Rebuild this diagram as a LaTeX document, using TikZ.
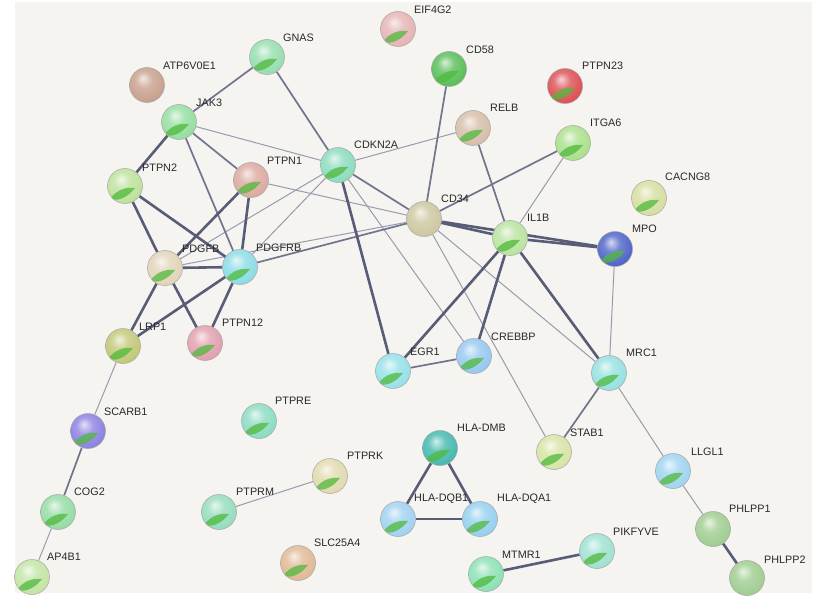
\documentclass[tikz,border=0pt]{standalone}
\usepackage{fontspec}
\setmainfont{Liberation Sans}
\usetikzlibrary{backgrounds}
\definecolor{bgpaper}{RGB}{245,244,240}
\definecolor{edgehi}{RGB}{88,92,118}
\definecolor{edgemid}{RGB}{112,116,140}
\definecolor{edgelo}{RGB}{152,155,174}
\definecolor{patchgreen}{RGB}{80,185,60}
\definecolor{labeltext}{RGB}{40,40,40}
% protein colours
\definecolor{cgnas}{RGB}{150,222,175}
\definecolor{ceif}{RGB}{230,180,180}
\definecolor{ccdfiftyeight}{RGB}{90,190,90}
\definecolor{catp}{RGB}{200,160,140}
\definecolor{cptpntwothree}{RGB}{220,80,85}
\definecolor{cjak}{RGB}{150,222,160}
\definecolor{crelb}{RGB}{215,190,170}
\definecolor{citga}{RGB}{170,225,140}
\definecolor{ccdkn}{RGB}{140,220,190}
\definecolor{cptpnone}{RGB}{220,170,160}
\definecolor{cptpntwo}{RGB}{190,225,155}
\definecolor{ccacng}{RGB}{215,222,160}
\definecolor{ccdthirtyfour}{RGB}{205,200,160}
\definecolor{cilb}{RGB}{185,228,160}
\definecolor{cmpo}{RGB}{80,100,200}
\definecolor{cpdgfb}{RGB}{225,212,185}
\definecolor{cpdgfrb}{RGB}{140,220,230}
\definecolor{clrp}{RGB}{195,200,120}
\definecolor{cptpntwelve}{RGB}{225,160,175}
\definecolor{cegr}{RGB}{150,225,232}
\definecolor{ccrebbp}{RGB}{150,200,240}
\definecolor{cmrc}{RGB}{150,225,225}
\definecolor{cscarb}{RGB}{140,130,225}
\definecolor{cptpre}{RGB}{140,220,195}
\definecolor{cstab}{RGB}{215,228,165}
\definecolor{chladmb}{RGB}{70,185,175}
\definecolor{cllgl}{RGB}{160,212,240}
\definecolor{cptprk}{RGB}{225,218,175}
\definecolor{chladqb}{RGB}{160,210,240}
\definecolor{chladqa}{RGB}{150,208,240}
\definecolor{cptprm}{RGB}{150,220,190}
\definecolor{ccog}{RGB}{150,220,165}
\definecolor{cphlpp}{RGB}{160,205,145}
\definecolor{cpikfyve}{RGB}{160,225,210}
\definecolor{cslc}{RGB}{225,185,150}
\definecolor{cmtmr}{RGB}{140,225,180}
\definecolor{capfour}{RGB}{195,228,165}
\colorlet{protcol}{gray}
\pgfdeclareradialshading[protcol]{protball}{\pgfqpoint{-6bp}{10bp}}{%
  color(0bp)=(protcol!25!white); color(12bp)=(protcol!80!white);
  color(28bp)=(protcol); color(40bp)=(protcol!88!black); color(50bp)=(protcol!65!black)}

\begin{document}
\begin{tikzpicture}[
    x=1pt, y=-1pt,
    setcol/.code={\colorlet{protcol}{#1}},
    prot/.style={circle, minimum size=35pt, inner sep=0pt, setcol=#1,
        shading=protball, draw=black!35, line width=0.5pt},
    protst/.style={prot=#1, path picture={
        \fill[patchgreen, opacity=.75, shift={(path picture bounding box.center)}]
            (-15pt,-13pt) .. controls (-8pt,-3pt) and (2pt,-1pt) .. (10pt,-2pt)
            .. controls (4pt,-10pt) and (-6pt,-16pt) .. cycle;}},
    lbl/.style={anchor=west, inner sep=0pt, font=\fontsize{10.8}{12}\selectfont, text=labeltext},
    hi/.style={draw=edgehi, line width=2.6pt},
    mid/.style={draw=edgemid, line width=1.7pt},
    lo/.style={draw=edgelo, line width=1pt}
]
    \useasboundingbox (0,0) rectangle (817,599);

    % Proteins
    \node[protst=cgnas] (gnas) at (267,57) {};
    \node[protst=ceif] (eif4g2) at (398,29) {};
    \node[protst=ccdfiftyeight] (cd58) at (449,69) {};
    \node[prot=catp] (atp6v0e1) at (147,85) {};
    \node[protst=cptpntwothree] (ptpn23) at (565,86) {};
    \node[protst=cjak] (jak3) at (179,122) {};
    \node[protst=crelb] (relb) at (473,128) {};
    \node[protst=citga] (itga6) at (573,143) {};
    \node[protst=ccdkn] (cdkn2a) at (338,165) {};
    \node[protst=cptpnone] (ptpn1) at (251,180) {};
    \node[protst=cptpntwo] (ptpn2) at (125,186) {};
    \node[protst=ccacng] (cacng8) at (649,198) {};
    \node[prot=ccdthirtyfour] (cd34) at (424,219) {};
    \node[protst=cilb] (il1b) at (510,238) {};
    \node[protst=cmpo] (mpo) at (615,249) {};
    \node[protst=cpdgfb] (pdgfb) at (165,268) {};
    \node[protst=cpdgfrb] (pdgfrb) at (240,267) {};
    \node[protst=clrp] (lrp1) at (123,346) {};
    \node[protst=cptpntwelve] (ptpn12) at (205,343) {};
    \node[protst=cegr] (egr1) at (393,371) {};
    \node[protst=ccrebbp] (crebbp) at (474,356) {};
    \node[protst=cmrc] (mrc1) at (609,373) {};
    \node[protst=cscarb] (scarb1) at (88,431) {};
    \node[protst=cptpre] (ptpre) at (259,421) {};
    \node[protst=cstab] (stab1) at (554,452) {};
    \node[protst=chladmb] (hladmb) at (440,448) {};
    \node[protst=cllgl] (llgl1) at (673,471) {};
    \node[protst=cptprk] (ptprk) at (330,476) {};
    \node[protst=chladqb] (hladqb1) at (398,519) {};
    \node[protst=chladqa] (hladqa1) at (480,519) {};
    \node[protst=cptprm] (ptprm) at (219,512) {};
    \node[protst=ccog] (cog2) at (58,512) {};
    \node[prot=cphlpp] (phlpp1) at (713,529) {};
    \node[protst=cpikfyve] (pikfyve) at (597,551) {};
    \node[protst=cslc] (slc25a4) at (298,563) {};
    \node[protst=cmtmr] (mtmr1) at (486,574) {};
    \node[prot=cphlpp] (phlpp2) at (747,578) {};
    \node[protst=capfour] (ap4b1) at (32,577) {};

    % Labels
    \node[lbl] (gnas-l) at (283,38) {GNAS};
    \node[lbl] (eif4g2-l) at (414,10) {EIF4G2};
    \node[lbl] (cd58-l) at (466,50) {CD58};
    \node[lbl] (atp6v0e1-l) at (163,66) {ATP6V0E1};
    \node[lbl] (ptpn23-l) at (582,66) {PTPN23};
    \node[lbl] (jak3-l) at (196,103) {JAK3};
    \node[lbl] (relb-l) at (490,108) {RELB};
    \node[lbl] (itga6-l) at (590,123) {ITGA6};
    \node[lbl] (cdkn2a-l) at (354,145) {CDKN2A};
    \node[lbl] (ptpn1-l) at (267,161) {PTPN1};
    \node[lbl] (ptpn2-l) at (142,168) {PTPN2};
    \node[lbl] (cacng8-l) at (665,177) {CACNG8};
    \node[lbl] (cd34-l) at (441,199) {CD34};
    \node[lbl] (il1b-l) at (527,218) {IL1B};
    \node[lbl] (mpo-l) at (632,229) {MPO};
    \node[lbl] (pdgfb-l) at (182,249) {PDGFB};
    \node[lbl] (pdgfrb-l) at (256,248) {PDGFRB};
    \node[lbl] (lrp1-l) at (139,327) {LRP1};
    \node[lbl] (ptpn12-l) at (222,323) {PTPN12};
    \node[lbl] (egr1-l) at (410,352) {EGR1};
    \node[lbl] (crebbp-l) at (491,337) {CREBBP};
    \node[lbl] (mrc1-l) at (626,353) {MRC1};
    \node[lbl] (scarb1-l) at (104,412) {SCARB1};
    \node[lbl] (ptpre-l) at (275,401) {PTPRE};
    \node[lbl] (stab1-l) at (570,433) {STAB1};
    \node[lbl] (hladmb-l) at (457,428) {HLA-DMB};
    \node[lbl] (llgl1-l) at (691,452) {LLGL1};
    \node[lbl] (ptprk-l) at (347,456) {PTPRK};
    \node[lbl] (hladqb1-l) at (414,499) {HLA-DQB1};
    \node[lbl] (hladqa1-l) at (497,499) {HLA-DQA1};
    \node[lbl] (ptprm-l) at (236,492) {PTPRM};
    \node[lbl] (cog2-l) at (74,492) {COG2};
    \node[lbl] (phlpp1-l) at (729,509) {PHLPP1};
    \node[lbl] (pikfyve-l) at (613,532) {PIKFYVE};
    \node[lbl] (slc25a4-l) at (314,543) {SLC25A4};
    \node[lbl] (mtmr1-l) at (502,555) {MTMR1};
    \node[lbl] (phlpp2-l) at (764,560) {PHLPP2};
    \node[lbl] (ap4b1-l) at (47,557) {AP4B1};

    \begin{scope}[on background layer]
        % Paper
        \fill[white] (0,0) rectangle (817,599);
        \fill[bgpaper] (15,2) rectangle (812,593);

        % Weak links
        \draw[lo] (jak3) -- (cdkn2a);
        \draw[lo] (ptpn1) -- (cd34);
        \draw[lo] (pdgfb) -- (cdkn2a);
        \draw[lo] (pdgfb) -- (cd34);
        \draw[lo] (pdgfrb) -- (cdkn2a);
        \draw[lo] (cdkn2a) -- (relb);
        \draw[lo] (cdkn2a) -- (crebbp);
        \draw[lo] (cd34) -- (stab1);
        \draw[lo] (cd34) -- (mrc1);
        \draw[lo] (itga6) -- (il1b);
        \draw[lo] (mpo) -- (mrc1);
        \draw[lo] (mrc1) -- (llgl1);
        \draw[lo] (llgl1) -- (phlpp1);
        \draw[lo] (ptprm) -- (ptprk);
        \draw[lo] (lrp1) -- (scarb1);
        \draw[lo] (cog2) -- (ap4b1);

        % Medium links
        \draw[mid] (gnas) -- (jak3);
        \draw[mid] (gnas) -- (cdkn2a);
        \draw[mid] (jak3) -- (ptpn1);
        \draw[mid] (jak3) -- (pdgfrb);
        \draw[mid] (cdkn2a) -- (cd34);
        \draw[mid] (cd58) -- (cd34);
        \draw[mid] (cd34) -- (itga6);
        \draw[mid] (cd34) -- (pdgfrb);
        \draw[mid] (relb) -- (il1b);
        \draw[mid] (egr1) -- (crebbp);
        \draw[mid] (mrc1) -- (stab1);
        \draw[mid] (scarb1) -- (cog2);

        % Strong links
        \draw[hi] (jak3) -- (ptpn2);
        \draw[hi] (ptpn2) -- (pdgfb);
        \draw[hi] (ptpn2) -- (pdgfrb);
        \draw[hi] (ptpn1) -- (pdgfb);
        \draw[hi] (ptpn1) -- (pdgfrb);
        \draw[hi] (pdgfb) -- (pdgfrb);
        \draw[hi] (pdgfb) -- (lrp1);
        \draw[hi] (pdgfb) -- (ptpn12);
        \draw[hi] (pdgfrb) -- (lrp1);
        \draw[hi] (pdgfrb) -- (ptpn12);
        \draw[hi] (cdkn2a) -- (egr1);
        \draw[hi] (cd34) -- (il1b);
        \draw[hi] (cd34) -- (mpo);
        \draw[hi] (il1b) -- (mpo);
        \draw[hi] (il1b) -- (egr1);
        \draw[hi] (il1b) -- (crebbp);
        \draw[hi] (il1b) -- (mrc1);
        \draw[hi] (hladmb) -- (hladqb1);
        \draw[hi] (hladmb) -- (hladqa1);
        \draw[hi] (hladqb1) -- (hladqa1);
        \draw[hi] (mtmr1) -- (pikfyve);
        \draw[hi] (phlpp1) -- (phlpp2);
    \end{scope}
\end{tikzpicture}
\end{document}
